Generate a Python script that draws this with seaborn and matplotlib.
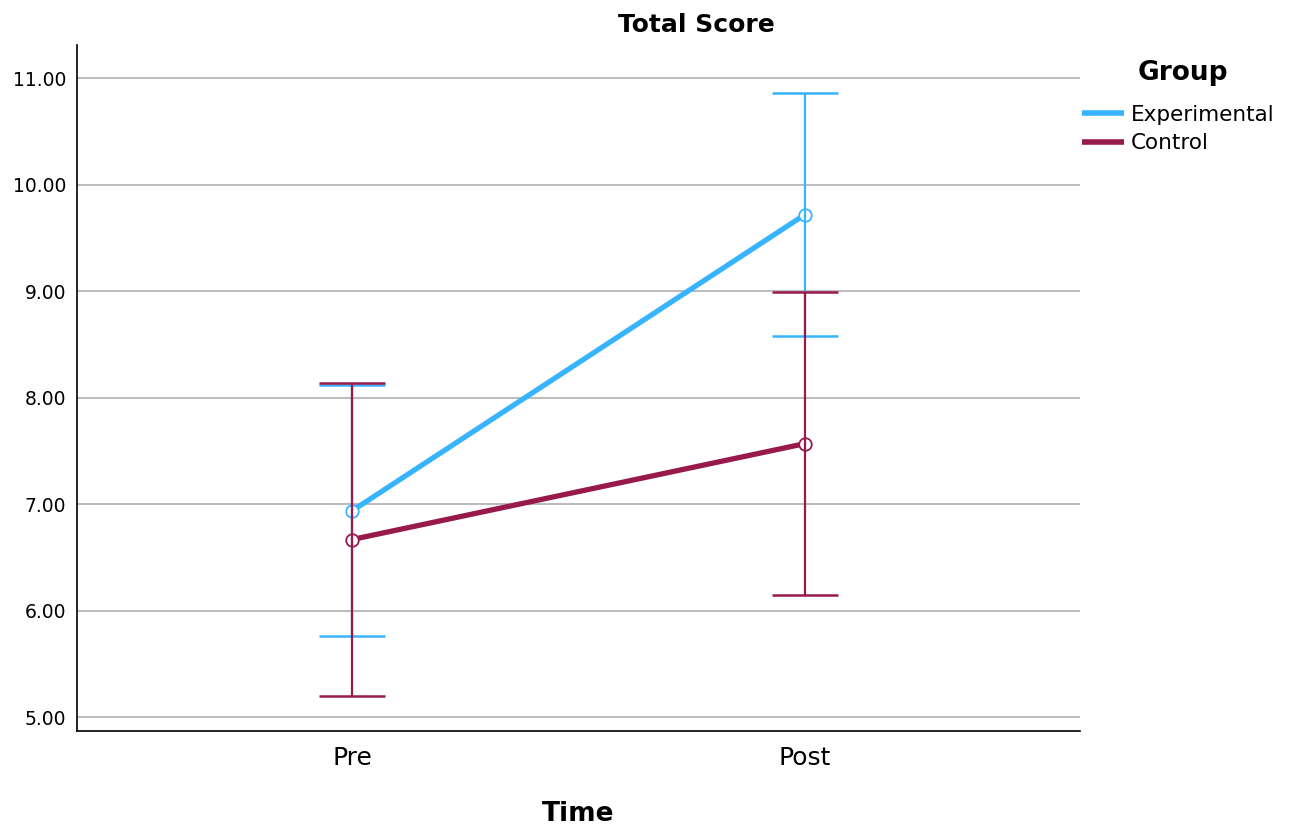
import matplotlib
matplotlib.use("Agg")
import matplotlib.pyplot as plt
from matplotlib.lines import Line2D
import seaborn as sns
import pandas as pd

# Estimated marginal means with 95% CI half-widths
times = ["Pre", "Post"]
groups = ["Experimental", "Control"]
experimental_means = [6.94, 9.72]
experimental_ci = [1.18, 1.14]
control_means = [6.67, 7.57]
control_ci = [1.47, 1.42]
y_ticks = [5.0, 6.0, 7.0, 8.0, 9.0, 10.0, 11.0]

colors = {"Experimental": "#38B4FE", "Control": "#981A4C"}

df = pd.DataFrame({
    "Time": times * 2,
    "Group": ["Experimental"] * 2 + ["Control"] * 2,
    "Score": experimental_means + control_means,
    "CI": experimental_ci + control_ci,
})

sns.set_theme(style="white")
plt.rcParams["font.family"] = ["DejaVu Sans"]
plt.rcParams["text.color"] = "black"
plt.rcParams["xtick.color"] = "black"
plt.rcParams["ytick.color"] = "black"
plt.rcParams["axes.labelcolor"] = "black"

fig = plt.figure(figsize=(12.89, 8.33), dpi=100)
ax = fig.add_axes([77 / 1289, 1 - 731 / 833, (1080 - 77) / 1289, (731 - 45) / 833])

sns.lineplot(data=df, x="Time", y="Score", hue="Group", hue_order=groups,
             palette=colors, sort=False, linewidth=3.8, marker="o",
             markersize=9, markerfacecolor="white", markeredgewidth=1.3,
             legend=False, ax=ax, zorder=3)
for line in ax.lines:
    line.set_markeredgecolor(line.get_color())

pos = {t: i for i, t in enumerate(times)}
for g in groups:
    sub = df[df["Group"] == g]
    ax.errorbar([pos[t] for t in sub["Time"]], sub["Score"], yerr=sub["CI"],
                fmt="none", ecolor=colors[g], elinewidth=1.6, capsize=24,
                capthick=1.8, zorder=4)

ax.set_xlim(-0.608, 1.608)
ax.set_ylim(4.872, 11.313)
ax.set_yticks(y_ticks)
ax.set_yticklabels([f"{v:.2f}" for v in y_ticks], fontsize=13.5)
ax.set_xticks(range(len(times)))
ax.set_xticklabels(times, fontsize=18)
ax.tick_params(axis="y", length=0, pad=8)
ax.tick_params(axis="x", length=0, pad=11)
ax.yaxis.grid(True, color="#BDBDBD", linewidth=1.5)
ax.xaxis.grid(False)
ax.set_axisbelow(True)
for side in ["top", "right"]:
    ax.spines[side].set_visible(False)
for side in ["left", "bottom"]:
    ax.spines[side].set_color("black")
    ax.spines[side].set_linewidth(1.2)
ax.set_ylabel("")
ax.set_xlabel("Time", fontsize=19, fontweight="bold", labelpad=22)

fig.text(696 / 1289, 1 - 25 / 833, "Total Score", ha="center", va="center",
         fontsize=18, fontweight="bold")

# Legend: title placed on its own, entries below it
fig.text(1183 / 1289, 1 - 73 / 833, "Group", ha="center", va="center",
         fontsize=19, fontweight="bold")
handles = [Line2D([], [], color=colors[g], linewidth=4, solid_capstyle="butt")
           for g in groups]
fig.legend(handles, groups, loc="upper left",
           bbox_to_anchor=(1082 / 1289, 1 - 105 / 833), frameon=False,
           fontsize=15.5, handlelength=1.95, handletextpad=0.33,
           labelspacing=0.38, borderpad=0, borderaxespad=0)

fig.savefig("out.png", dpi=100, facecolor="white")
